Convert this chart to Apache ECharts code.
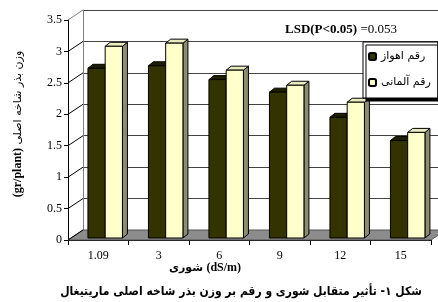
<!DOCTYPE html>
<html>
<head>
<meta charset="utf-8">
<script src="https://cdn.jsdelivr.net/npm/echarts@6/dist/echarts.min.js"></script>
<style>
html, body { margin: 0; padding: 0; background: #fff; }
#chart { width: 438px; height: 302px; }
</style>
</head>
<body>
<div id="chart"></div>
<script>
// salinity levels (dS/m) and seed weight of main branch (gr/plant)
var salinity = ['1.09', '3', '6', '9', '12', '15'];
var ahvaz = [2.70, 2.74, 2.52, 2.32, 1.92, 1.55];
var german = [3.05, 3.10, 2.67, 2.43, 2.16, 1.68];
var yTicks = [0, 0.5, 1, 1.5, 2, 2.5, 3, 3.5];
var seriesNames = ['رقم اهواز', 'رقم آلمانی'];

// fake 3d offsets, excel style
var DX = 15, DY = -10;   // wall depth
var FX = 3, FY = -2;     // bar front plane
var BX = 5, BY = -4;     // bar depth

var serif = 'Liberation Serif';
var fa = 'DejaVu Sans';
var faNarrow = '"DejaVu Sans Condensed", "DejaVu Sans"';

function toPairs(arr) {
    return arr.map(function (v, i) { return [i, v]; });
}

function barItem(k, front, top, side) {
    return function (params, api) {
        var i = api.value(0);
        var band = api.size([1, 0])[0];
        var base = api.coord([i, 0]);
        var peak = api.coord([i, api.value(1)]);
        var w = band * 0.285;
        var x0 = base[0] - band / 2 + band * 0.28 + k * w + FX;
        var x1 = x0 + w;
        var yb = base[1] + FY, yt = peak[1] + FY;
        var st = function (c) { return { fill: c, stroke: '#000', lineWidth: 1 }; };
        return {
            type: 'group',
            children: [
                { type: 'polygon', shape: { points: [[x1, yb], [x1 + BX, yb + BY], [x1 + BX, yt + BY], [x1, yt]] }, style: st(side) },
                { type: 'polygon', shape: { points: [[x0, yt], [x1, yt], [x1 + BX, yt + BY], [x0 + BX, yt + BY]] }, style: st(top) },
                { type: 'rect', shape: { x: x0, y: yt, width: w, height: yb - yt }, style: st(front) }
            ]
        };
    };
}

function wallItem(params, api) {
    var cs = params.coordSys;
    var p = api.coord([0, api.value(1)]);
    var y = p[1];
    var kids = [];
    if (params.dataIndex === 0) {
        kids.push({
            type: 'polygon',
            shape: { points: [[cs.x, y], [cs.x + cs.width, y], [cs.x + cs.width + DX, y + DY], [cs.x + DX, y + DY]] },
            style: { fill: '#8c8c8c', stroke: '#555', lineWidth: 1 }
        });
    }
    kids.push({
        type: 'line',
        shape: { x1: cs.x, y1: y, x2: cs.x + DX, y2: y + DY },
        style: { stroke: params.dataIndex === yTicks.length - 1 ? '#808080' : '#000', lineWidth: 1 }
    });
    return { type: 'group', children: kids };
}

var chart = echarts.init(document.getElementById('chart'));

var option = {
    animation: false,
    backgroundColor: '#fff',
    grid: [
        { left: 68, top: 20, width: 363, height: 220 },
        { left: 83, top: 10, width: 363, height: 220 }
    ],
    xAxis: [
        {
            type: 'category', gridIndex: 0, data: salinity,
            axisLine: { lineStyle: { color: '#000', width: 1 } },
            axisTick: { show: true, length: 5, lineStyle: { color: '#000' } },
            axisLabel: { fontFamily: serif, fontSize: 12, color: '#000', margin: 10 }
        },
        { type: 'category', gridIndex: 1, data: salinity, show: false }
    ],
    yAxis: [
        {
            type: 'value', gridIndex: 0, min: 0, max: 3.5, interval: 0.5,
            axisLine: { show: true, lineStyle: { color: '#000', width: 1 } },
            axisTick: { show: true, length: 4, lineStyle: { color: '#000' } },
            axisLabel: { fontFamily: serif, fontSize: 12, color: '#000', margin: 6 },
            splitLine: { show: false }
        },
        {
            type: 'value', gridIndex: 1, min: 0, max: 3.5, interval: 0.5,
            axisLine: { show: true, lineStyle: { color: '#808080' } },
            axisTick: { show: false },
            axisLabel: { show: false },
            splitLine: { show: true, lineStyle: { color: '#444', width: 1 } }
        }
    ],
    legend: {
        data: seriesNames,
        left: 363, top: 42,
        orient: 'vertical',
        padding: [9, 7, 10, 5],
        itemGap: 15,
        itemWidth: 7, itemHeight: 7,
        backgroundColor: '#fff',
        borderColor: '#000', borderWidth: 1,
        shadowColor: '#000', shadowBlur: 0, shadowOffsetX: 3, shadowOffsetY: 3,
        textStyle: { fontFamily: fa, fontSize: 11, color: '#000' }
    },
    series: [
        {
            type: 'custom', name: 'walls', xAxisIndex: 0, yAxisIndex: 0,
            data: yTicks.map(function (t) { return [0, t]; }),
            renderItem: wallItem, silent: true
        },
        {
            type: 'custom', name: seriesNames[0], xAxisIndex: 0, yAxisIndex: 0,
            data: toPairs(ahvaz),
            itemStyle: { color: '#333300', borderColor: '#000', borderWidth: 1 },
            renderItem: barItem(0, '#333300', '#1f1f00', '#222200')
        },
        {
            type: 'custom', name: seriesNames[1], xAxisIndex: 0, yAxisIndex: 0,
            data: toPairs(german),
            itemStyle: { color: '#ffffcc', borderColor: '#000', borderWidth: 1 },
            renderItem: barItem(1, '#ffffcc', '#ebebc0', '#8c8c6e')
        }
    ],
    graphic: [
        {
            type: 'text', x: 285, y: 30,
            style: {
                text: '{b|LSD(P<0.05)} {n|=0.053}',
                verticalAlign: 'middle',
                rich: {
                    b: { fontFamily: serif, fontWeight: 'bold', fontSize: 13, fill: '#000' },
                    n: { fontFamily: serif, fontSize: 13, fill: '#000' }
                }
            }
        },
        {
            type: 'text', x: 18, y: 124, rotation: Math.PI / 2,
            style: {
                text: '{e|(gr/plant)} {p|وزن بذر شاخه اصلی}',
                align: 'center', verticalAlign: 'middle',
                rich: {
                    e: { fontFamily: serif, fontWeight: 'bold', fontSize: 12, fill: '#000' },
                    p: { fontFamily: fa, fontSize: 11, fill: '#000' }
                }
            }
        },
        {
            type: 'text', x: 205, y: 268,
            style: {
                text: '{p|شوری} {e|(dS/m)}',
                align: 'center', verticalAlign: 'middle',
                rich: {
                    p: { fontFamily: fa, fontWeight: 'bold', fontSize: 11, fill: '#000' },
                    e: { fontFamily: serif, fontWeight: 'bold', fontSize: 12, fill: '#000' }
                }
            }
        },
        {
            type: 'text', x: 241, y: 292,
            style: {
                text: 'شکل ۱- تأثیر متقابل شوری و رقم بر وزن بذر شاخه اصلی ماریتیغال',
                align: 'center', verticalAlign: 'middle',
                fontFamily: faNarrow, fontWeight: 'bold', fontSize: 12, fill: '#000'
            }
        }
    ]
};

chart.setOption(option);
</script>
</body>
</html>
